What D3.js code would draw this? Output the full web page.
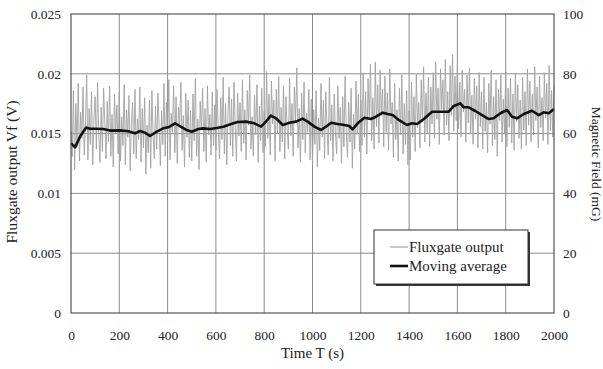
<!DOCTYPE html>
<html>
<head>
<meta charset="utf-8">
<script src="https://cdn.jsdelivr.net/npm/d3@7"></script>
<style>
  body { margin: 0; background: #fff; }
  text { font-family: "Liberation Serif", "Times New Roman", serif; fill: #222; }
</style>
</head>
<body>
<div id="chart"></div>
<script>
// fluxgate output, one reading every 5 s from 0 to 2000 s
const rawStep = 5;
const rawValues = [
  0.0152, 0.0131, 0.0186, 0.0120, 0.0175, 0.0139, 0.0192, 0.0127, 0.0168, 0.0146, 0.0189, 0.0132, 0.0158, 0.0199, 0.0128, 0.0171, 0.0141, 0.0185, 0.0124, 0.0163,
  0.0181, 0.0137, 0.0193, 0.0149, 0.0126, 0.0172, 0.0135, 0.0188, 0.0160, 0.0129, 0.0177, 0.0143, 0.0190, 0.0131, 0.0166, 0.0122, 0.0183, 0.0150, 0.0174, 0.0133,
  0.0185, 0.0127, 0.0164, 0.0140, 0.0191, 0.0124, 0.0170, 0.0147, 0.0182, 0.0119, 0.0158, 0.0176, 0.0133, 0.0187, 0.0129, 0.0162, 0.0145, 0.0189, 0.0126, 0.0171,
  0.0138, 0.0180, 0.0116, 0.0157, 0.0134, 0.0178, 0.0121, 0.0186, 0.0148, 0.0129, 0.0173, 0.0137, 0.0184, 0.0155, 0.0123, 0.0169, 0.0141, 0.0192, 0.0131, 0.0176,
  0.0143, 0.0195, 0.0128, 0.0167, 0.0151, 0.0190, 0.0134, 0.0181, 0.0125, 0.0172, 0.0158, 0.0193, 0.0136, 0.0165, 0.0122, 0.0184, 0.0147, 0.0178, 0.0130, 0.0169,
  0.0127, 0.0183, 0.0144, 0.0196, 0.0131, 0.0162, 0.0120, 0.0177, 0.0153, 0.0188, 0.0135, 0.0171, 0.0126, 0.0190, 0.0149, 0.0166, 0.0132, 0.0185, 0.0140, 0.0174,
  0.0136, 0.0187, 0.0152, 0.0129, 0.0180, 0.0145, 0.0197, 0.0133, 0.0175, 0.0124, 0.0168, 0.0189, 0.0140, 0.0179, 0.0131, 0.0193, 0.0155, 0.0127, 0.0184, 0.0148,
  0.0176, 0.0135, 0.0195, 0.0142, 0.0170, 0.0128, 0.0186, 0.0157, 0.0199, 0.0137, 0.0164, 0.0131, 0.0182, 0.0149, 0.0191, 0.0126, 0.0173, 0.0144, 0.0188, 0.0134,
  0.0169, 0.0139, 0.0202, 0.0146, 0.0183, 0.0132, 0.0194, 0.0158, 0.0178, 0.0127, 0.0187, 0.0150, 0.0198, 0.0135, 0.0172, 0.0143, 0.0190, 0.0129, 0.0181, 0.0154,
  0.0137, 0.0196, 0.0148, 0.0175, 0.0131, 0.0189, 0.0160, 0.0205, 0.0138, 0.0171, 0.0126, 0.0184, 0.0145, 0.0193, 0.0134, 0.0167, 0.0151, 0.0187, 0.0128, 0.0179,
  0.0124, 0.0170, 0.0141, 0.0186, 0.0122, 0.0163, 0.0136, 0.0192, 0.0147, 0.0178, 0.0129, 0.0185, 0.0155, 0.0132, 0.0197, 0.0144, 0.0174, 0.0127, 0.0183, 0.0150,
  0.0133, 0.0190, 0.0146, 0.0172, 0.0125, 0.0181, 0.0139, 0.0198, 0.0152, 0.0130, 0.0176, 0.0143, 0.0188, 0.0121, 0.0166, 0.0137, 0.0194, 0.0149, 0.0183, 0.0135,
  0.0178, 0.0140, 0.0201, 0.0147, 0.0185, 0.0133, 0.0196, 0.0162, 0.0208, 0.0144, 0.0180, 0.0137, 0.0210, 0.0156, 0.0191, 0.0142, 0.0203, 0.0165, 0.0187, 0.0139,
  0.0198, 0.0151, 0.0184, 0.0136, 0.0204, 0.0158, 0.0176, 0.0130, 0.0192, 0.0145, 0.0170, 0.0127, 0.0188, 0.0149, 0.0199, 0.0133, 0.0175, 0.0141, 0.0186, 0.0124,
  0.0169, 0.0128, 0.0193, 0.0147, 0.0181, 0.0135, 0.0200, 0.0155, 0.0176, 0.0138, 0.0195, 0.0160, 0.0206, 0.0143, 0.0184, 0.0150, 0.0197, 0.0139, 0.0189, 0.0158,
  0.0201, 0.0146, 0.0210, 0.0162, 0.0188, 0.0141, 0.0204, 0.0170, 0.0195, 0.0149, 0.0212, 0.0157, 0.0185, 0.0144, 0.0207, 0.0165, 0.0216, 0.0152, 0.0198, 0.0161,
  0.0208, 0.0154, 0.0193, 0.0147, 0.0203, 0.0168, 0.0187, 0.0143, 0.0199, 0.0159, 0.0205, 0.0150, 0.0182, 0.0141, 0.0196, 0.0162, 0.0190, 0.0138, 0.0201, 0.0156,
  0.0185, 0.0137, 0.0197, 0.0152, 0.0176, 0.0134, 0.0192, 0.0158, 0.0203, 0.0140, 0.0181, 0.0145, 0.0195, 0.0131, 0.0187, 0.0161, 0.0199, 0.0143, 0.0179, 0.0150,
  0.0202, 0.0139, 0.0188, 0.0155, 0.0196, 0.0142, 0.0183, 0.0136, 0.0200, 0.0160, 0.0191, 0.0146, 0.0178, 0.0137, 0.0197, 0.0153, 0.0185, 0.0140, 0.0204, 0.0157,
  0.0194, 0.0143, 0.0183, 0.0149, 0.0206, 0.0161, 0.0189, 0.0138, 0.0198, 0.0155, 0.0180, 0.0144, 0.0201, 0.0163, 0.0192, 0.0141, 0.0207, 0.0152, 0.0186, 0.0147,
  0.0190
];

// moving average
const maTime = [0, 17, 37, 62, 80, 100, 134, 161, 203, 237, 265, 286, 306, 327, 355, 382, 403, 431, 451, 479, 500, 527, 548, 576, 603, 631, 663,
  690, 725, 759, 787, 807, 828, 849, 877, 904, 932, 959, 980, 1008, 1035, 1056, 1077, 1104, 1132, 1152, 1166, 1187, 1215, 1242, 1263, 1291, 1311, 1332,
  1357, 1391, 1412, 1433, 1461, 1495, 1529, 1564, 1585, 1612, 1626, 1647, 1674, 1702, 1730, 1750, 1778, 1806, 1826, 1847, 1875, 1909, 1937, 1957, 1978, 2000];
const maValue = [0.0142, 0.01385, 0.01474, 0.0155, 0.01541, 0.0154, 0.01538, 0.01525, 0.01527, 0.0152, 0.01502, 0.01522, 0.01508, 0.0148, 0.01516, 0.01544, 0.01553, 0.01586, 0.01563, 0.0153, 0.01516, 0.01538, 0.01544, 0.01538, 0.01547, 0.01558, 0.0158,
  0.01597, 0.016, 0.01586, 0.01558, 0.016, 0.0165, 0.01628, 0.01572, 0.01591, 0.016, 0.01625, 0.016, 0.01558, 0.0153, 0.01558, 0.01591, 0.0158, 0.01572, 0.01563, 0.01536, 0.01586, 0.01633, 0.01622, 0.01641, 0.01675, 0.01664, 0.01655,
  0.01614, 0.01572, 0.01586, 0.0158, 0.01622, 0.01683, 0.01683, 0.01683, 0.01731, 0.01753, 0.0172, 0.0172, 0.01689, 0.01655, 0.01622, 0.01628, 0.0167, 0.01697, 0.01641, 0.01628, 0.01664, 0.01691, 0.01655, 0.01678, 0.0167, 0.01706];

const xTicks = [0, 200, 400, 600, 800, 1000, 1200, 1400, 1600, 1800, 2000];
const yTicks = [0, 0.005, 0.01, 0.015, 0.02, 0.025];
const y2Ticks = [0, 20, 40, 60, 80, 100];
const legendLabels = ["Fluxgate output", "Moving average"];

const fullWidth = 603, fullHeight = 369;
const margin = { top: 14, right: 49, bottom: 56, left: 71 };
const width = fullWidth - margin.left - margin.right;
const height = fullHeight - margin.top - margin.bottom;

const svg = d3.select("#chart").append("svg")
  .attr("width", fullWidth)
  .attr("height", fullHeight);

const g = svg.append("g")
  .attr("transform", "translate(" + margin.left + "," + margin.top + ")");

const x = d3.scaleLinear().domain([0, 2000]).range([0, width]);
const y = d3.scaleLinear().domain([0, 0.025]).range([height, 0]);
const y2 = d3.scaleLinear().domain([0, 100]).range([height, 0]);

// grid
g.append("g").selectAll("line").data(xTicks.slice(1, -1)).enter().append("line")
  .attr("x1", d => x(d)).attr("x2", d => x(d))
  .attr("y1", 0).attr("y2", height)
  .attr("stroke", "#8c8c8c").attr("stroke-width", 1);
g.append("g").selectAll("line").data(yTicks.slice(1, -1)).enter().append("line")
  .attr("x1", 0).attr("x2", width)
  .attr("y1", d => y(d)).attr("y2", d => y(d))
  .attr("stroke", "#8c8c8c").attr("stroke-width", 1);

// data
const raw = rawValues.map((v, i) => ({ t: i * rawStep, v: v }));
const ma = maTime.map((t, i) => ({ t: t, v: maValue[i] }));

const line = d3.line().x(d => x(d.t)).y(d => y(d.v));

g.append("path").datum(raw)
  .attr("d", line)
  .attr("fill", "none")
  .attr("stroke", "#a2a2a2")
  .attr("stroke-width", 0.9);

g.append("path").datum(ma)
  .attr("d", line)
  .attr("fill", "none")
  .attr("stroke", "#111")
  .attr("stroke-width", 2.6)
  .attr("stroke-linejoin", "round");

// frame
g.append("rect")
  .attr("width", width).attr("height", height)
  .attr("fill", "none").attr("stroke", "#555").attr("stroke-width", 1.2);

// axes
const xAxis = g.append("g").attr("transform", "translate(0," + height + ")")
  .call(d3.axisBottom(x).tickValues(xTicks).tickSize(0).tickPadding(17).tickFormat(d3.format("d")));
const yAxis = g.append("g")
  .call(d3.axisLeft(y).tickValues(yTicks).tickSize(0).tickPadding(10).tickFormat(d => d === 0 ? "0" : String(d)));
const y2Axis = g.append("g").attr("transform", "translate(" + width + ",0)")
  .call(d3.axisRight(y2).tickValues(y2Ticks).tickSize(0).tickPadding(9));

[xAxis, yAxis, y2Axis].forEach(a => {
  a.select(".domain").remove();
  a.selectAll("text").style("font-size", "13.5px").style("font-family", "Liberation Serif").attr("fill", "#222");
});

// titles
svg.append("text")
  .attr("x", margin.left + width / 2).attr("y", 358)
  .attr("text-anchor", "middle").style("font-size", "15px")
  .text("Time T (s)");
svg.append("text")
  .attr("transform", "translate(17,172) rotate(-90)")
  .attr("text-anchor", "middle").style("font-size", "15.5px")
  .text("Fluxgate output Vf (V)");
svg.append("text")
  .attr("transform", "translate(592," + (margin.top + 150) + ") rotate(90)")
  .attr("text-anchor", "middle").style("font-size", "13.5px")
  .text("Magnetic Field (mG)");

// legend
const lg = svg.append("g").attr("transform", "translate(374,230)");
lg.append("rect").attr("x", 2).attr("y", 2).attr("width", 154).attr("height", 54).attr("fill", "#333");
lg.append("rect").attr("width", 154).attr("height", 54).attr("fill", "#fff").attr("stroke", "#333").attr("stroke-width", 1);
const legendColors = ["#a2a2a2", "#111"];
const legendWidths = [1.2, 2.6];
legendLabels.forEach((label, i) => {
  const ly = 17 + i * 19;
  lg.append("line").attr("x1", 16).attr("x2", 34).attr("y1", ly).attr("y2", ly)
    .attr("stroke", legendColors[i]).attr("stroke-width", legendWidths[i]);
  lg.append("text").attr("x", 35).attr("y", ly).attr("dy", "0.35em")
    .style("font-size", "15px").text(label);
});
</script>
</body>
</html>
